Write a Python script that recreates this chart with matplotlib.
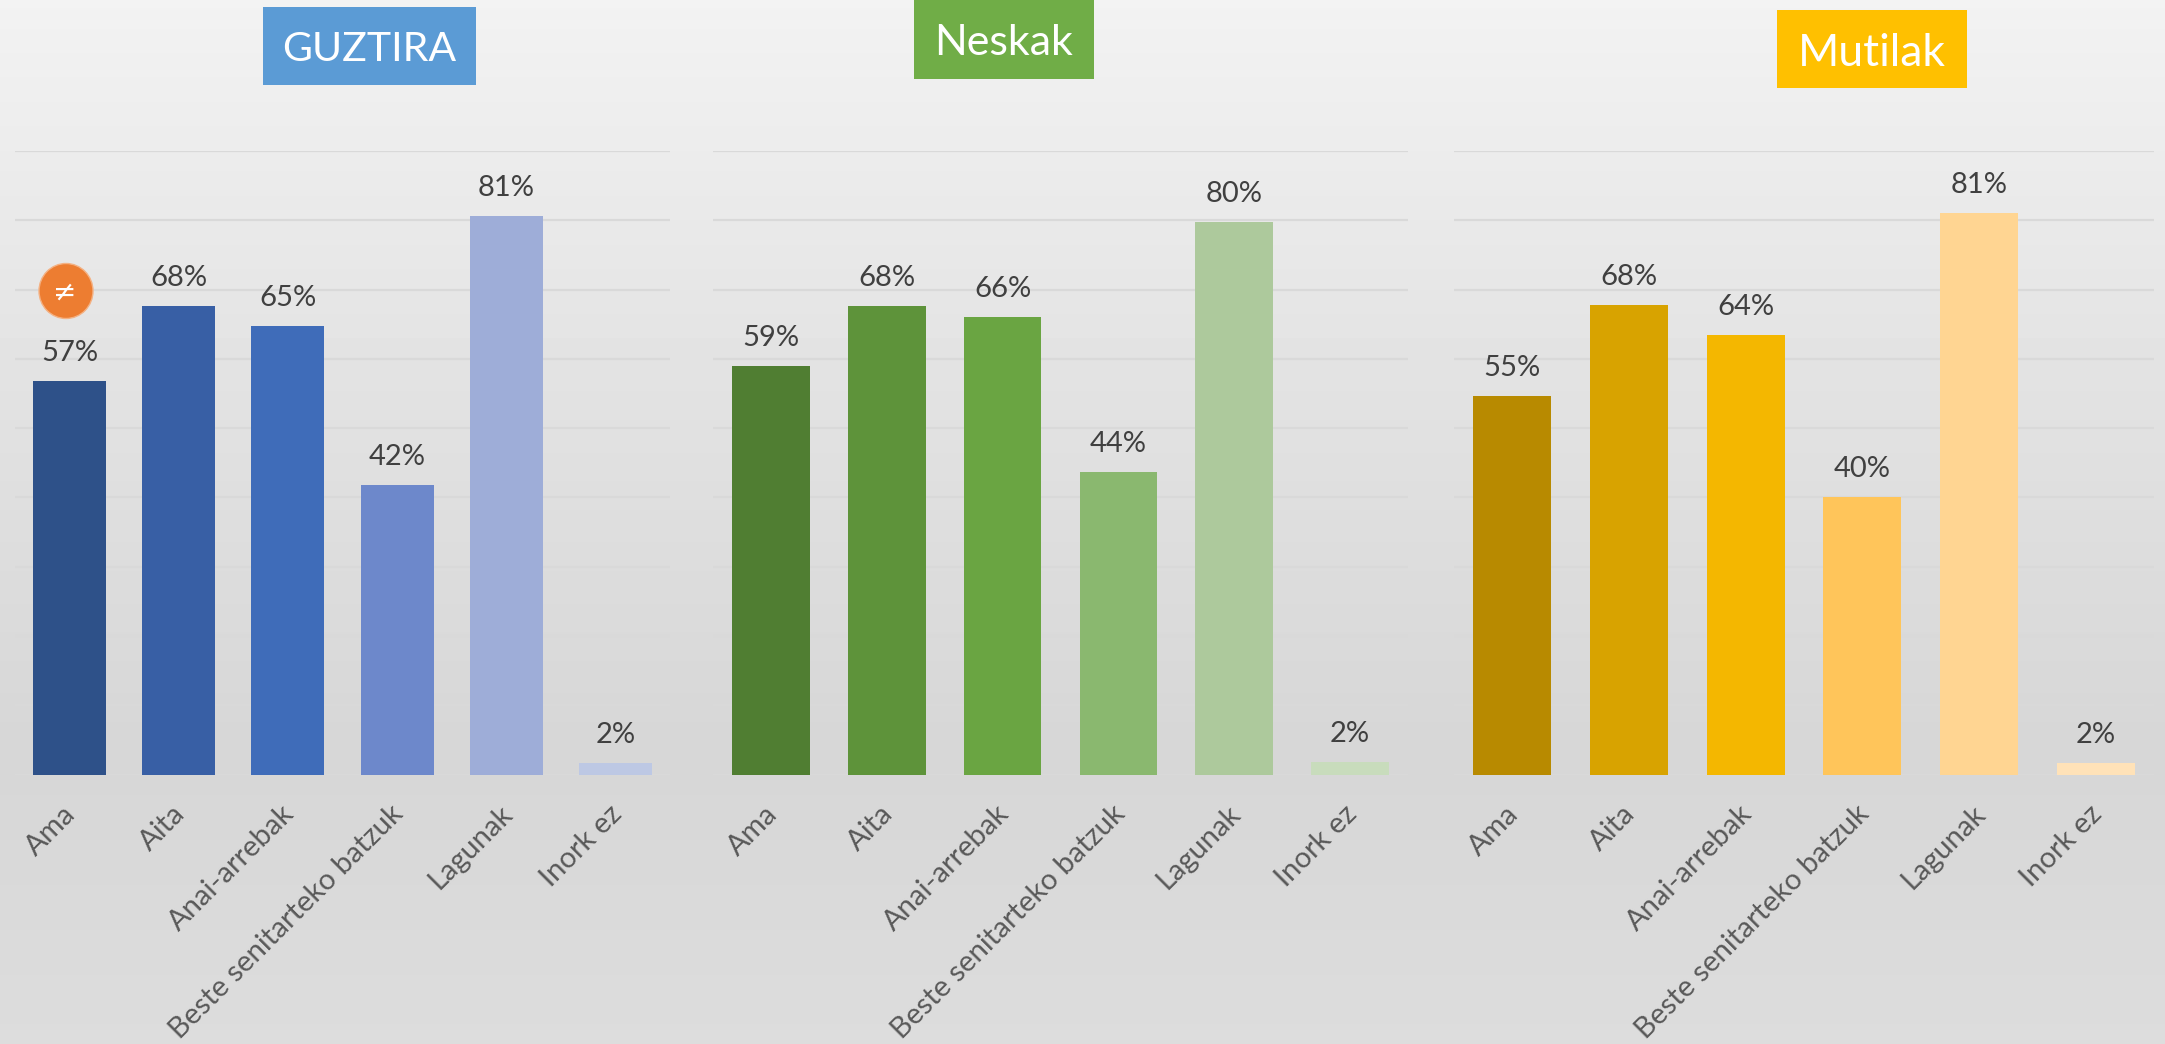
import matplotlib
matplotlib.use('Agg')
import matplotlib.pyplot as plt
import numpy as np
from matplotlib.patches import Ellipse, Rectangle
from matplotlib.transforms import ScaledTranslation

plt.rcParams['font.family'] = ['Lato', 'DejaVu Sans']

W, H = 2165, 1044

kategoriak = ['Ama', 'Aita', 'Anai-arrebak', 'Beste senitarteko batzuk', 'Lagunak', 'Inork ez']

guztira = [56.8, 67.6, 64.7, 41.8, 80.6, 1.7]
neskak = [59.0, 67.6, 66.1, 43.7, 79.7, 1.8]
mutilak = [54.6, 67.8, 63.5, 40.0, 81.0, 1.6]

guztira_etiketak = ['57%', '68%', '65%', '42%', '81%', '2%']
neskak_etiketak = ['59%', '68%', '66%', '44%', '80%', '2%']
mutilak_etiketak = ['55%', '68%', '64%', '40%', '81%', '2%']

guztira_koloreak = ['#2e5189', '#385fa5', '#3f6cb9', '#6d88cb', '#9eadd8', '#bdc8e4']
neskak_koloreak = ['#507e32', '#5e933a', '#6aa542', '#8ab86f', '#adc99c', '#c8dcbc']
mutilak_koloreak = ['#b88a00', '#d8a300', '#f4b700', '#ffc55a', '#ffd592', '#ffe2b8']


def px_rect(x0, y0, x1, y1):
    # pixel box (top-left origin) to figure fraction
    return [x0 / W, 1 - y1 / H, (x1 - x0) / W, (y1 - y0) / H]


fig = plt.figure(figsize=(W / 100, H / 100), dpi=100)

# background gradient
bg = fig.add_axes([0, 0, 1, 1], zorder=0)
ys = np.linspace(0, 1, 256)
grad = np.interp(ys, [0, 0.35, 0.72, 1], [0.95, 0.89, 0.84, 0.865])
bg.imshow(grad[:, None], cmap='gray', vmin=0, vmax=1, aspect='auto', extent=[0, 1, 0, 1])
bg.axis('off')


def panel(x0, x1, values, labels, colors):
    ax = fig.add_axes(px_rect(x0, 151, x1, 774.5), zorder=1)
    ax.patch.set_visible(False)
    x = np.arange(len(kategoriak))
    ax.bar(x, values, width=0.67, color=colors, zorder=3)
    for xi, v, lab in zip(x, values, labels):
        ax.annotate(lab, (xi, v), xytext=(0, 15), textcoords='offset pixels', ha='center', va='bottom',
                    fontsize=21, color='#404040', zorder=4)
    ax.set_xlim(-0.5, 5.5)
    ax.set_ylim(0, 90)
    ax.set_yticks(np.arange(0, 100, 10))
    ax.set_yticklabels([])
    ax.grid(axis='y', color='#d9d9d9', linewidth=1.6, zorder=1)
    ax.set_xticks(x)
    ax.set_xticklabels(kategoriak, rotation=45, ha='right', va='top', rotation_mode='anchor',
                       fontsize=21, color='#595959')
    ax.tick_params(length=0, pad=19)
    # labels sit a bit left of the bar centre
    shift = ScaledTranslation(-7 / 100, 0, fig.dpi_scale_trans)
    for lab in ax.get_xticklabels():
        lab.set_transform(lab.get_transform() + shift)
    for s in ax.spines.values():
        s.set_visible(False)
    return ax


panel(15, 670, guztira, guztira_etiketak, guztira_koloreak)
panel(713, 1408, neskak, neskak_etiketak, neskak_koloreak)
panel(1454, 2154, mutilak, mutilak_etiketak, mutilak_koloreak)


def title_box(x0, y0, x1, y1, text, color, size):
    r = px_rect(x0, y0, x1, y1)
    fig.add_artist(Rectangle((r[0], r[1]), r[2], r[3], transform=fig.transFigure, facecolor=color,
                             edgecolor='none', zorder=5))
    fig.text(r[0] + r[2] / 2, r[1] + r[3] / 2, text, color='white', fontsize=size, ha='center',
             va='center_baseline', zorder=6)


title_box(263, 7, 476, 85, 'GUZTIRA', '#5b9bd5', 29.5)
title_box(914, 0, 1094, 79, 'Neskak', '#70ad47', 31)
title_box(1777, 10, 1967, 88, 'Mutilak', '#ffc000', 32)

# orange badge
fig.add_artist(Ellipse((66 / W, 1 - 291 / H), 54 / W, 55 / H, transform=fig.transFigure, facecolor='#ed7d31',
                       edgecolor='#f4b183', linewidth=1, zorder=5))
fig.text(65 / W, 1 - 293 / H, '≠', color='white', fontsize=20, family='DejaVu Sans', ha='center', va='center', zorder=6)

fig.savefig('out.png', dpi=100)
